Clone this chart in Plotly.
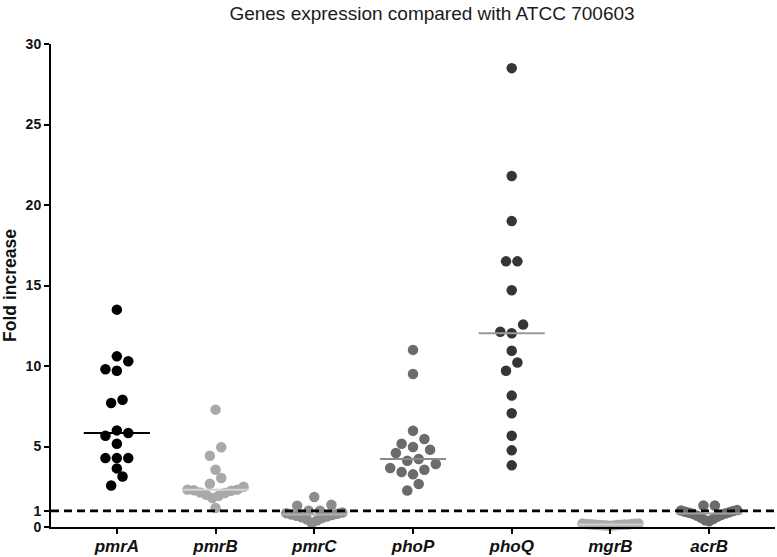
import numpy as np
import plotly.graph_objects as go

# ---------------- data ----------------
genes = ["pmrA", "pmrB", "pmrC", "phoP", "phoQ", "mgrB", "acrB"]

pmrA = [13.5, 10.6, 10.3, 9.8, 9.7, 7.9, 7.7, 6.0, 5.84, 5.67, 5.17, 4.28, 4.28, 4.28, 3.64, 3.14, 2.58]
pmrB = [7.29, 4.95, 4.43, 3.56, 3.04, 2.69, 2.50, 2.32, 2.32, 2.28, 2.25, 2.15, 2.11, 2.0, 1.94, 1.80, 1.18]
pmrC = [1.86, 1.38, 1.32, 1.01, 1.01, 0.90, 0.86, 0.82, 0.78, 0.74, 0.70, 0.65, 0.60, 0.55, 0.48, 0.40, 0.25]
phoP = [11.0, 9.5, 5.98, 5.47, 5.17, 4.97, 4.80, 4.60, 4.22, 4.12, 3.91, 3.66, 3.56, 3.42, 3.27, 2.67, 2.27]
phoQ = [28.5, 21.8, 19.0, 16.5, 16.5, 14.7, 12.57, 12.13, 12.03, 10.95, 10.22, 9.71, 8.16, 7.06, 5.67, 4.76, 3.83]
mgrB = [0.22, 0.21, 0.20, 0.19, 0.18, 0.17, 0.16, 0.16, 0.15, 0.14, 0.14, 0.13, 0.12, 0.11, 0.10, 0.09, 0.08]
acrB = [1.34, 1.34, 1.05, 1.02, 0.99, 0.95, 0.92, 0.88, 0.84, 0.80, 0.75, 0.70, 0.64, 0.57, 0.50, 0.42, 0.36]

series = [pmrA, pmrB, pmrC, phoP, phoQ, mgrB, acrB]

y_ticks = [0, 1, 5, 10, 15, 20, 25, 30]
reference_level = 1

dot_colors = ["#000000", "#a9a9a9", "#8c8c8c", "#6b6b6b", "#353535", "#ababab", "#6b6b6b"]
median_colors = ["#000000", "#d4d4d4", "#b0b0b0", "#8a8a8a", "#9a9a9a", "#cfcfcf", "#a0a0a0"]

# ---------------- layout geometry ----------------
W_FIG, H_FIG = 777, 557
M_L, M_R, M_T, M_B = 51, 2, 44, 30
X_RANGE = [-0.667, 6.667]
Y_RANGE = [0, 30]
px_x = (W_FIG - M_L - M_R) / (X_RANGE[1] - X_RANGE[0])
px_y = (H_FIG - M_T - M_B) / (Y_RANGE[1] - Y_RANGE[0])

DOT = 11.4      # row spacing in px
GAP = 9.5       # max gap between consecutive values in a row (px)
SPAN = 11.5     # max vertical span of a row (px)
HALF_W = 28     # max half-width of a row (px)


def swarm_offsets(values):
    """Row-based scatter (column plot) offsets, in category units."""
    n = len(values)
    order = sorted(range(n), key=lambda i: values[i])
    rows, cur = [], [order[0]]
    for i in order[1:]:
        gap = (values[i] - values[cur[-1]]) * px_y
        span = (values[i] - values[cur[0]]) * px_y
        if gap <= GAP and span <= SPAN:
            cur.append(i)
        else:
            rows.append(cur)
            cur = [i]
    rows.append(cur)
    offs = [0.0] * n
    for row in rows:
        m = len(row)
        if m == 1:
            continue
        s = min(DOT, 2 * HALF_W / (m - 1))
        pos = [(k - (m - 1) / 2) * s for k in range(m)]
        pos.sort(key=lambda p: (abs(p), p))
        for idx, p in zip(row, pos):
            offs[idx] = p / px_x
    return offs


fig = go.Figure()

for ci, (name, vals) in enumerate(zip(genes, series)):
    offs = swarm_offsets(vals)
    fig.add_trace(go.Scatter(
        x=[ci + o for o in offs], y=vals, mode="markers",
        marker=dict(size=10.5, color=dot_colors[ci], line=dict(width=0)),
        cliponaxis=False, showlegend=False, hoverinfo="y", name=name))

for ci, vals in enumerate(series):
    med = float(np.median(vals))
    fig.add_trace(go.Scatter(
        x=[ci - 0.335, ci + 0.335], y=[med, med], mode="lines",
        line=dict(color=median_colors[ci], width=2),
        showlegend=False, hoverinfo="skip", cliponaxis=False))

fig.add_shape(type="line", xref="paper", yref="y", x0=0, x1=1,
              y0=reference_level, y1=reference_level, layer="above",
              line=dict(color="black", width=2.6, dash="8px,5px"))

fig.update_layout(
    width=W_FIG, height=H_FIG,
    margin=dict(l=M_L, r=M_R, t=M_T, b=M_B, autoexpand=False),
    paper_bgcolor="white", plot_bgcolor="white",
    font=dict(family="Liberation Sans, Arial, sans-serif", color="#111111"),
    title=dict(text="Genes expression compared with ATCC 700603",
               x=432 / W_FIG, xanchor="center", y=1 - 13 / H_FIG, yanchor="middle",
               font=dict(size=19, color="#1a1a1a")),
)

fig.update_xaxes(
    range=X_RANGE, tickmode="array", tickvals=list(range(len(genes))), ticktext=genes,
    showline=True, linecolor="black", linewidth=2, ticks="outside", ticklen=5,
    tickwidth=1.5, tickcolor="black", showgrid=False, zeroline=False,
    ticklabelstandoff=-2, automargin=False,
    tickfont=dict(size=17, weight="bold", style="italic", color="#111111"),
)
fig.update_yaxes(
    range=Y_RANGE, tickmode="array", tickvals=y_ticks,
    showline=True, linecolor="black", linewidth=2, ticks="outside", ticklen=5,
    tickwidth=2, tickcolor="black", showgrid=False, zeroline=False, automargin=False,
    tickfont=dict(size=14, weight="bold", color="#111111"),
    title=dict(text="Fold increase", standoff=8,
               font=dict(size=17.5, weight="bold", color="#111111")),
)

fig.write_html("out.html", config={"displayModeBar": False},
               post_script="document.body.style.margin='0';")
